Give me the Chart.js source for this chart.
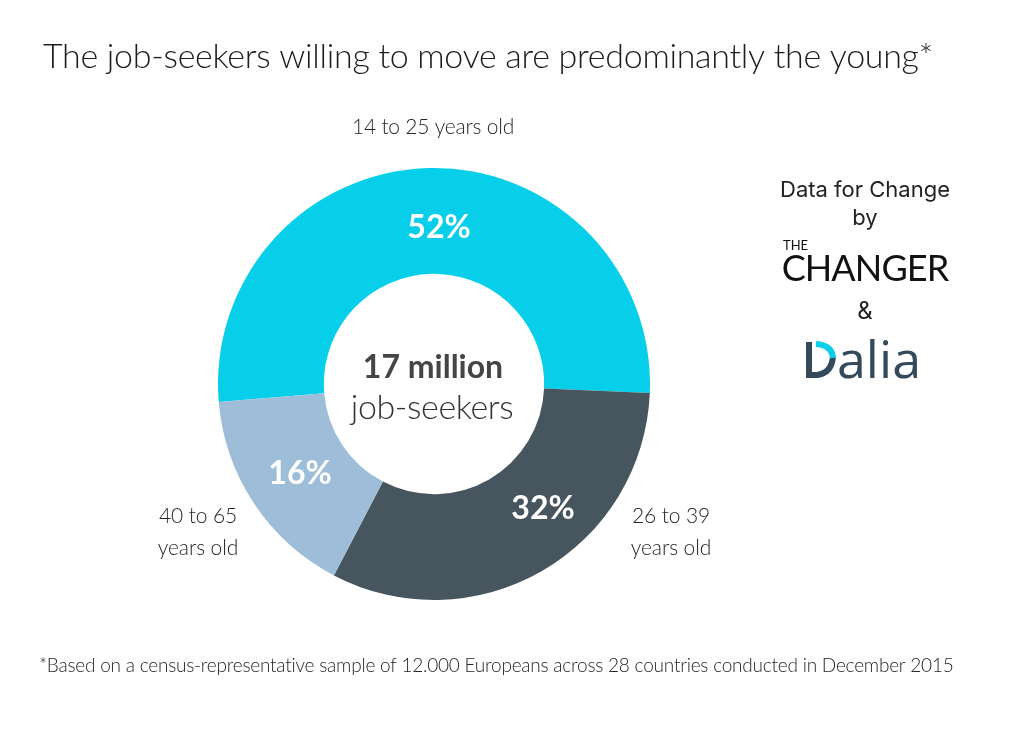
<!DOCTYPE html>
<html>
<head>
<meta charset="utf-8">
<style>
  html, body { margin: 0; padding: 0; background: #fff; }
  #wrap { position: relative; width: 1031px; height: 732px; }
</style>
<script src="https://cdn.jsdelivr.net/npm/chart.js@4"></script>
</head>
<body>
<div id="wrap"><canvas id="myChart" width="1031" height="732"></canvas></div>
<script>
'use strict';

// DATA
// ====
var categories = ['14 to 25 years old', '26 to 39 years old', '40 to 65 years old'];
var shares = [52, 32, 16];
var shareColors = ['#07CFEA', '#47555E', '#9DBDD8'];

var titleText = 'The job-seekers willing to move are predominantly the young*';
var footnoteText = '*Based on a census-representative sample of 12.000 Europeans across 28 countries conducted in December 2015';

// TEXT LAYOUT
// ===========
var LIGHT = '300 ';
var textColor = '#262626';
var texts = [
    { t: titleText, x: 43, y: 68, font: LIGHT + '34px Lato', color: '#1c1c1c', align: 'left', ls: '-0.3px' },
    { t: footnoteText, x: 39, y: 672, font: LIGHT + '19px Lato', color: textColor, align: 'left', ls: '-0.22px' },
    { t: categories[0], x: 433, y: 134, font: LIGHT + '21px Lato', color: textColor, ls: '-0.22px' },
    { t: '26 to 39', x: 671, y: 523, font: LIGHT + '21px Lato', color: textColor, ls: '-0.1px' },
    { t: 'years old', x: 671, y: 555, font: LIGHT + '21px Lato', color: textColor, ls: '-0.1px' },
    { t: '40 to 65', x: 198, y: 523, font: LIGHT + '21px Lato', color: textColor, ls: '-0.1px' },
    { t: 'years old', x: 198, y: 555, font: LIGHT + '21px Lato', color: textColor, ls: '-0.1px' },
    { t: shares[0] + '%', x: 439, y: 238, font: '700 32px Lato', color: '#fff' },
    { t: shares[1] + '%', x: 543, y: 519, font: '700 32px Lato', color: '#fff' },
    { t: shares[2] + '%', x: 300, y: 484, font: '700 32px Lato', color: '#fff' },
    { t: '17 million', x: 433, y: 378, font: '700 32px Lato', color: '#454545' },
    { t: 'job-seekers', x: 432, y: 419, font: LIGHT + '34px Lato', color: '#333', ls: '-0.4px' },
    { t: 'Data for Change', x: 865, y: 197, font: '400 22px Inter', color: '#222' },
    { t: 'by', x: 865, y: 225, font: '400 22px Inter', color: '#222' },
    { t: 'THE', x: 783, y: 250, font: '400 13px Lato', color: '#111', align: 'left' },
    { t: 'CHANGER', x: 865, y: 281, font: '400 36px Lato', color: '#111', ls: '-0.9px' },
    { t: '&', x: 865, y: 319, font: '400 24px Inter', color: '#222' },
    { t: 'alia', x: 879, y: 378, font: '400 52px "Open Sans"', color: '#34495A' }
];

// draws every caption as canvas text once the ring is done
var captionPlugin = {
    id: 'captions',
    afterDraw: function (chart) {
        var ctx = chart.ctx;
        ctx.save();
        ctx.textBaseline = 'alphabetic';
        texts.forEach(function (item) {
            ctx.font = item.font;
            ctx.fillStyle = item.color;
            ctx.textAlign = item.align || 'center';
            ctx.letterSpacing = item.ls || '0px';
            ctx.fillText(item.t, item.x, item.y);
        });
        // the Dalia "D": dark stem and bowl, cyan top of the bowl
        ctx.lineWidth = 6;
        ctx.strokeStyle = '#34495A';
        ctx.beginPath();
        ctx.moveTo(809, 342);
        ctx.lineTo(809, 375);
        ctx.lineTo(817, 375);
        ctx.quadraticCurveTo(832, 373, 833, 356);
        ctx.stroke();
        ctx.strokeStyle = '#07CFEA';
        ctx.beginPath();
        ctx.moveTo(816, 344);
        ctx.quadraticCurveTo(832, 345, 833, 358);
        ctx.stroke();
        ctx.restore();
    }
};

var init = function () {
    var ctx = document.getElementById('myChart');
    new Chart(ctx, {
        type: 'doughnut',
        data: {
            labels: categories,
            datasets: [{
                data: shares,
                backgroundColor: shareColors,
                borderWidth: 0
            }]
        },
        options: {
            responsive: false,
            animation: false,
            rotation: -94.8,
            cutout: '51%',
            layout: { padding: { left: 218, right: 381, top: 168, bottom: 132 } },
            plugins: {
                legend: { display: false },
                tooltip: { enabled: false }
            }
        },
        plugins: [captionPlugin]
    });
};

init();
</script>
</body>
</html>
